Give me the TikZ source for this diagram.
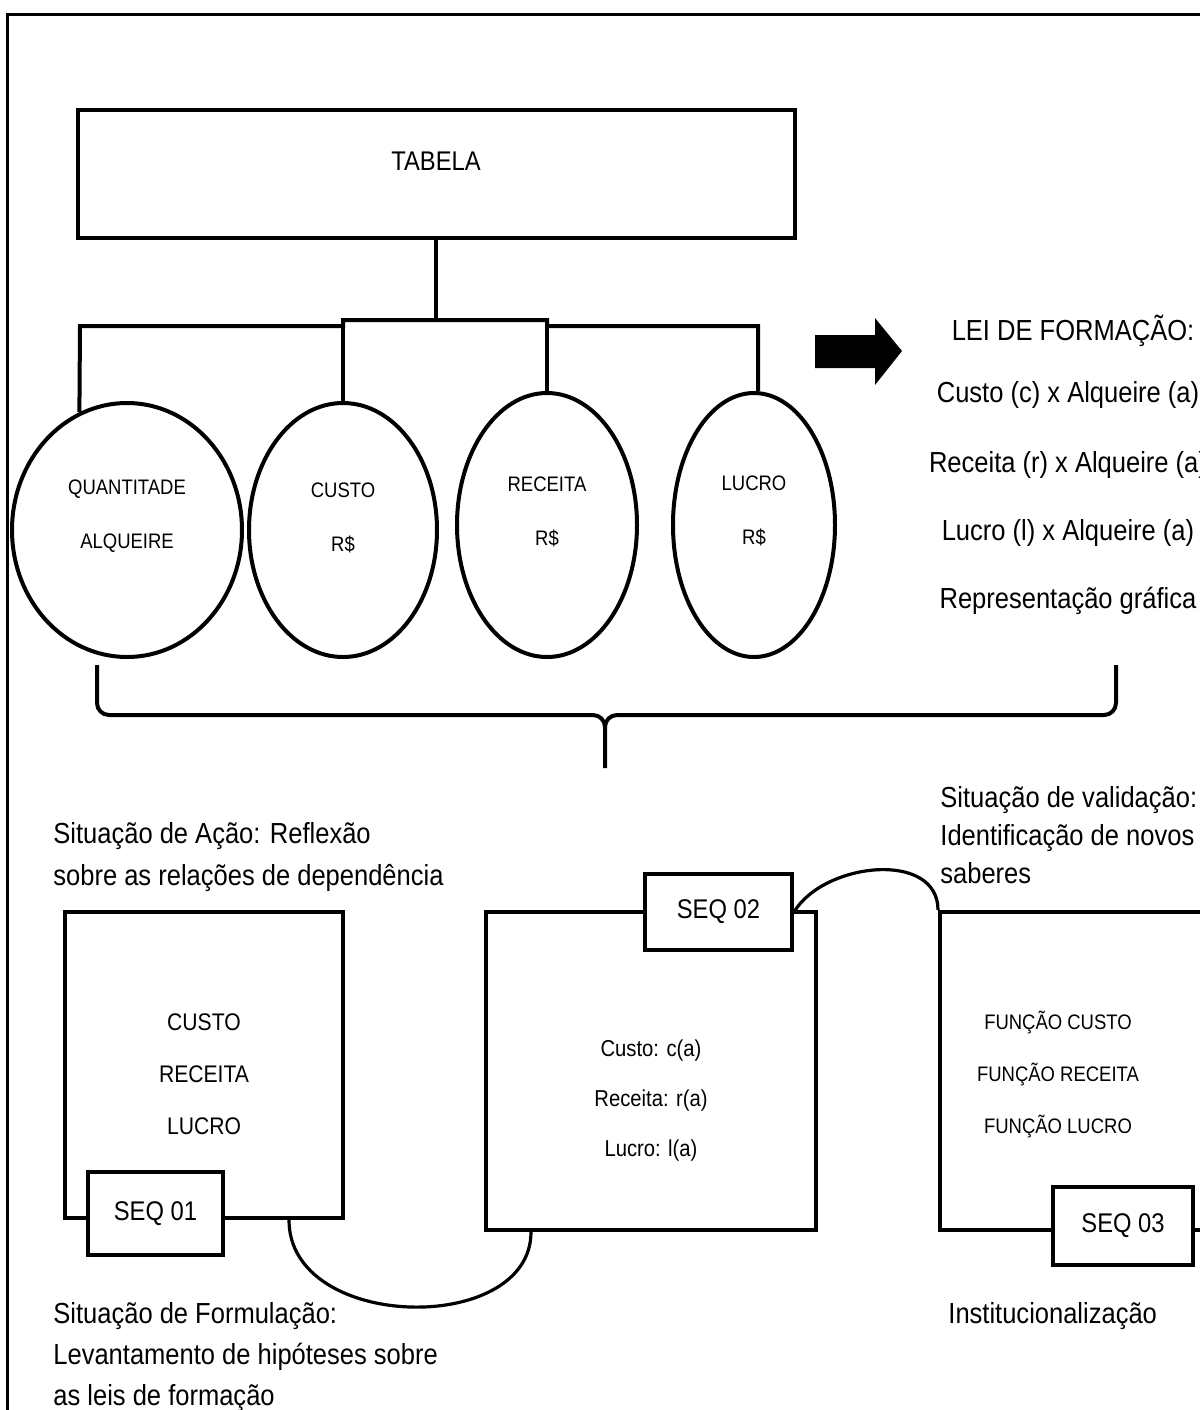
\documentclass[tikz,border=0pt]{standalone}
\usepackage{fontspec}
\setmainfont{Liberation Sans}[FakeStretch=0.88]
\usetikzlibrary{shapes.geometric,positioning}

\begin{document}
\begin{tikzpicture}[x=0.5pt,y=-0.5pt,
		caixa/.style={draw,line width=2pt,inner sep=0pt},
		rotulo/.style={draw,line width=2pt,fill=white,inner sep=0pt,minimum height=35pt,font=\fontsize{13.5}{16}\selectfont},
		oval/.style={draw,ellipse,line width=2pt,inner sep=0pt},
		ovaltxt/.style={align=center,inner sep=0pt,font=\fontsize{10.5}{27}\selectfont},
		boxtxt/.style={align=center,inner sep=0pt,font=\fontsize{12}{26}\selectfont},
		texto/.style={inner sep=0pt,font=\fontsize{14.5}{20}\selectfont},
		linha/.style={line width=2pt},
		curva/.style={line width=1.6pt}
	]
	\clip (0,0) rectangle (1200,1410);
	\draw[line width=1.5pt] (7,14) rectangle (1220,1430);

	% tabela e elipses
	\node[caixa,minimum width=358.5pt,minimum height=64pt] (tabela) at (436,174) {};
	\node[inner sep=0pt,font=\fontsize{13.5}{16}\selectfont] (tabtxt) at ([yshift=6.5pt]tabela.center) {TABELA};

	\node[oval,minimum width=115pt,minimum height=127pt] (qtd) at (127,530) {};
	\node[oval,minimum width=94pt,minimum height=127pt] (custo) at (343,530) {};
	\node[oval,minimum width=90pt,minimum height=132pt] (receita) at (547,525) {};
	\node[oval,minimum width=81pt,minimum height=132pt] (lucro) at (754,525) {};

	\node[ovaltxt] (tqtd) at ([yshift=6.75pt]qtd.center) {QUANTITADE\\ALQUEIRE};
	\node[ovaltxt] (tcusto) at ([yshift=6pt]custo.center) {CUSTO\\R\$};
	\node[ovaltxt] (treceita) at ([yshift=6.75pt]receita.center) {RECEITA\\R\$};
	\node[ovaltxt] (tlucro) at ([yshift=7pt]lucro.center) {LUCRO\\R\$};

	\coordinate (hb1) at (80,326);
	\coordinate (hb2) at (343,326);
	\coordinate (hb2a) at (343,320);
	\coordinate (hb3a) at (547,320);
	\coordinate (hb3) at (547,326);
	\coordinate (hb4) at (758,326);
	\draw[linha] (tabela.south) -- (tabela.south |- hb2a);
	\draw[linha] (qtd.112) -- (hb1) -- (hb2) -- (hb2a) -- (hb3a) -- (hb3) -- (hb4) -- (lucro.north -| hb4);
	\draw[linha] (custo.north) -- (custo.north |- hb2);
	\draw[linha] (receita.north) -- (receita.north |- hb3);

	% seta e lei de formacao
	\fill (815,335) -- (875,335) -- (875,318) -- (902,351) -- (875,385) -- (875,368) -- (815,368) -- cycle;
	\node[texto,anchor=base] (lei) at (1073,340) {LEI DE FORMAÇÃO:};
	\node[texto,anchor=base] (lei1) at (1068,402) {Custo (c) x Alqueire (a)};
	\node[texto,anchor=base] (lei2) at (1068,472) {Receita (r) x Alqueire (a)};
	\node[texto,anchor=base] (lei3) at (1068,540) {Lucro (l) x Alqueire (a)};
	\node[texto,anchor=base] (lei4) at (1068,608) {Representação gráfica};

	% chave
	\draw[line width=2pt] (97,665) -- (97,703) to[out=-90,in=180] (109,715) -- (593,715) to[out=0,in=90] (605,727) -- (605,768);
	\draw[line width=2pt] (605,727) to[out=90,in=180] (617,715) -- (1104,715) to[out=0,in=-90] (1116,703) -- (1116,665);

	% sequencias
	\node[texto,align=left,anchor=north west,font=\fontsize{14.5}{21}\selectfont] (acao) at (53,814) {\strut Situação de Ação: Reflexão\\sobre as relações de dependência};
	\node[texto,align=left,anchor=north west,font=\fontsize{14.5}{19}\selectfont] (valid) at (940,780) {\strut Situação de validação:\\Identificação de novos\\saberes};

	\node[caixa,minimum width=139pt,minimum height=153pt] (seq1box) at (204,1065) {};
	\node[caixa,minimum width=165pt,minimum height=159pt] (seq2box) at (651,1071) {};
	\node[caixa,minimum width=150pt,minimum height=159pt] (seq3box) at (1090,1071) {};

	\node[boxtxt] (t1) at (204,1074) {CUSTO\\RECEITA\\LUCRO};
	\node[boxtxt,font=\fontsize{11.5}{25}\selectfont] (t2) at (651,1101) {Custo: c(a)\\Receita: r(a)\\Lucro: l(a)};
	\node[boxtxt,font=\fontsize{10.5}{26}\selectfont] (t3) at (1058,1074) {FUNÇÃO CUSTO\\FUNÇÃO RECEITA\\FUNÇÃO LUCRO};

	\draw[curva] ([xshift=-28pt]seq1box.south east) .. controls +(0,-56pt) and +(0,-52pt) .. ([xshift=23.5pt]seq2box.south west);

	\node[rotulo,minimum width=67.5pt,minimum height=41.5pt] (seq1) at (155.5,1213.5) {SEQ 01};
	\node[rotulo,minimum width=73.5pt,minimum height=38pt] (seq2) at (718.5,912) {SEQ 02};
	\node[rotulo,minimum width=70pt,minimum height=39pt] (seq3) at (1123,1226) {SEQ 03};

	\draw[curva] (seq2.east) .. controls +(15pt,25pt) and +(0,30pt) .. (seq3box.north west);

	\node[texto,align=left,anchor=north west,font=\fontsize{14.5}{20.5}\selectfont] (formul) at (53,1294) {\strut Situação de Formulação:\\Levantamento de hipóteses sobre\\as leis de formação};
	\node[texto,anchor=base west] (instit) at (948,1323) {Institucionalização};
\end{tikzpicture}
\end{document}
